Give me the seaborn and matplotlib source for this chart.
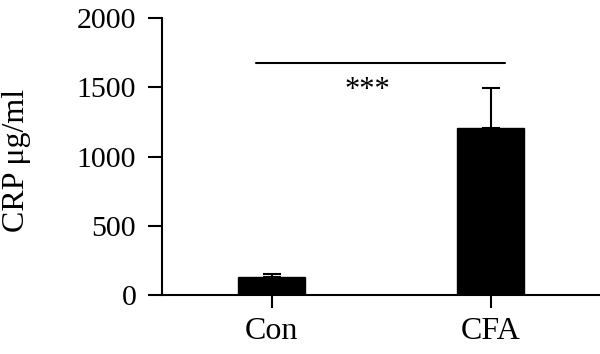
import matplotlib
matplotlib.use("Agg")
import matplotlib.pyplot as plt
import seaborn as sns
import pandas as pd

categories = ["Con", "CFA"]
means = [132, 1203]
errors = [20, 295]
yticks = [0, 500, 1000, 1500, 2000]
sig_text = "***"
sig_level = 1677
ylabel = "CRP μg/ml"

sns.set_theme(style="ticks")
plt.rcParams["font.family"] = ["Liberation Serif", "DejaVu Serif"]
plt.rcParams["text.color"] = "black"
plt.rcParams["axes.labelcolor"] = "black"
plt.rcParams["xtick.color"] = "black"
plt.rcParams["ytick.color"] = "black"

df = pd.DataFrame({"group": categories, "value": means})

fig = plt.figure(figsize=(6, 3.54), dpi=100)
ax = fig.add_axes([162/600, 1 - 295/354, 1 - 162/600, 277/354])

sns.barplot(data=df, x="group", y="value", color="black", width=0.31,
            saturation=1, ax=ax, errorbar=None, edgecolor="black")
ax.errorbar(x=range(len(categories)), y=means,
            yerr=[[0] * len(errors), errors], fmt="none",
            ecolor="black", elinewidth=1.5, capsize=6.8, capthick=1.5, zorder=1)

ax.set_xlim(-0.5, 1.5)
ax.set_ylim(0, 2000)
ax.set_yticks(yticks)
ax.set_xlabel("")
ax.set_ylabel(ylabel, fontsize=23)
ax.yaxis.set_label_coords(-0.30, 0.484)

ax.tick_params(axis="y", labelsize=21.5, length=10, width=1.5, pad=8.5)
ax.tick_params(axis="x", labelsize=23, length=9.5, width=1.5, pad=6)
for s in ["top", "right"]:
    ax.spines[s].set_visible(False)
for s in ["left", "bottom"]:
    ax.spines[s].set_linewidth(1.5)
    ax.spines[s].set_color("black")

ax.plot([-0.073, 1.066], [sig_level, sig_level], color="black", lw=1.5, clip_on=False)
ax.text(0.437, 1475, sig_text, ha="center", va="center", fontsize=22, color="black")

fig.savefig("out.png", dpi=100)
